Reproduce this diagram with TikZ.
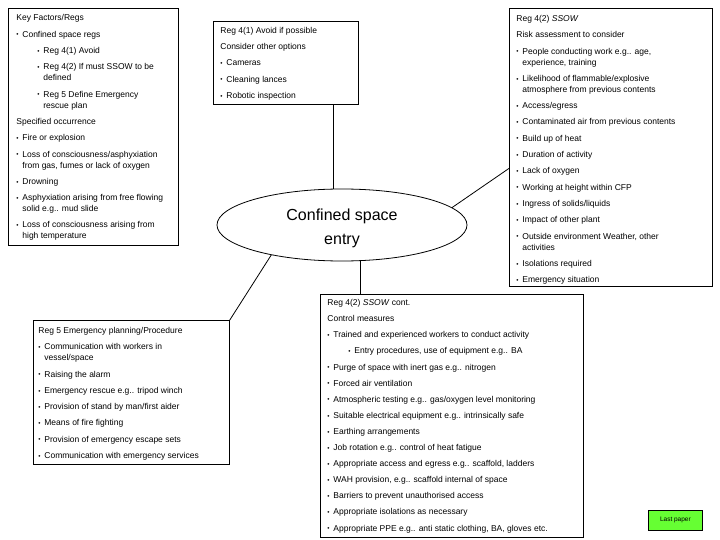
\documentclass[tikz,border=0pt]{standalone}
\usepackage{fontspec}
\setmainfont{Liberation Sans}
\usepackage{tikz}
\usetikzlibrary{
    positioning,
    calc,
    shapes.geometric
}
\definecolor{paperGreen}{RGB}{102,255,51}
% bullet, continuation and sub-item indents
\newcommand{\bl}{\makebox[6pt][l]{\raisebox{0.3pt}{\scalebox{0.75}{\textbullet}}}}
\newcommand{\ctd}{\hspace*{6pt}}
\newcommand{\subind}{\hspace*{21pt}}

\begin{document}
\begin{tikzpicture}[x=1pt,y=-1pt,
   box/.style={draw,anchor=north west,inner sep=0pt},
   txt/.style={anchor=north west,inner sep=0pt,align=left,font=\fontsize{8.5}{11}\selectfont},
   every path/.style={line width=0.8pt}]
  \useasboundingbox (0,0) rectangle (720,540);
  % centre
  \node[ellipse,draw,minimum width=250pt,minimum height=72pt,inner sep=0pt] (conf) at (342,225) {};
  \node[align=center,inner sep=0pt,font=\fontsize{16}{24.5}\selectfont] (conftxt)
        at ($(conf.center)+(0,3.5)$) {Confined space\\entry};
  % key factors
  \node[box,minimum width=170pt,minimum height=237pt] (key) at (8,8) {};
  \node[txt] (keytxt) at ($(key.north west)+(8,4.8)$) {\strut Key Factors/Regs\\[5.3pt]
    \bl Confined space regs\\[5.3pt]
    \subind\bl Reg 4(1) Avoid\\[5.3pt]
    \subind\bl Reg 4(2) If must SSOW to be\\
    \subind\ctd defined\\[5.3pt]
    \subind\bl Reg 5 Define Emergency\\
    \subind\ctd rescue plan\\[5.3pt]
    Specified occurrence\\[5.3pt]
    \bl Fire or explosion\\[5.3pt]
    \bl Loss of consciousness/asphyxiation\\
    \ctd from gas, fumes or lack of oxygen\\[5.3pt]
    \bl Drowning\\[5.3pt]
    \bl Asphyxiation arising from free flowing\\
    \ctd solid e.g.. mud slide\\[5.3pt]
    \bl Loss of consciousness arising from\\
    \ctd high temperature};
  % reg 4(1)
  \node[box,minimum width=145pt,minimum height=83pt] (reg41) at (213,21) {};
  \node[txt] (reg41txt) at ($(reg41.north west)+(7,4.3)$) {\strut Reg 4(1) Avoid if possible\\[5.3pt]
    Consider other options\\[5.3pt]
    \bl Cameras\\[5.3pt]
    \bl Cleaning lances\\[5.3pt]
    \bl Robotic inspection};
  % reg 4(2) ssow
  \node[box,minimum width=203pt,minimum height=278pt] (ssow) at (509,8) {};
  \node[txt] (ssowtxt) at ($(ssow.north west)+(7,5.3)$) {\strut Reg 4(2) \textit{SSOW}\\[5.3pt]
    Risk assessment to consider\\[5.3pt]
    \bl People conducting work e.g.. age,\\
    \ctd experience, training\\[5.3pt]
    \bl Likelihood of flammable/explosive\\
    \ctd atmosphere from previous contents\\[5.3pt]
    \bl Access/egress\\[5.3pt]
    \bl Contaminated air from previous contents\\[5.3pt]
    \bl Build up of heat\\[5.3pt]
    \bl Duration of activity\\[5.3pt]
    \bl Lack of oxygen\\[5.3pt]
    \bl Working at height within CFP\\[5.3pt]
    \bl Ingress of solids/liquids\\[5.3pt]
    \bl Impact of other plant\\[5.3pt]
    \bl Outside environment Weather, other\\
    \ctd activities\\[5.3pt]
    \bl Isolations required\\[5.3pt]
    \bl Emergency situation};
  % reg 5
  \node[box,minimum width=196pt,minimum height=144pt] (reg5) at (33,320) {};
  \node[txt] (reg5txt) at ($(reg5.north west)+(5,5.3)$) {\strut Reg 5 Emergency planning/Procedure\\[5.3pt]
    \bl Communication with workers in\\
    \ctd vessel/space\\[5.3pt]
    \bl Raising the alarm\\[5.3pt]
    \bl Emergency rescue e.g.. tripod winch\\[5.3pt]
    \bl Provision of stand by man/first aider\\[5.3pt]
    \bl Means of fire fighting\\[5.3pt]
    \bl Provision of emergency escape sets\\[5.3pt]
    \bl Communication with emergency services};
  % reg 4(2) cont.
  \node[box,minimum width=263pt,minimum height=243pt] (cont) at (320,294) {};
  \node[txt] (conttxt) at ($(cont.north west)+(7,3.5)$) {\strut Reg 4(2) \textit{SSOW} cont.\\[5.1pt]
    Control measures\\[5.1pt]
    \bl Trained and experienced workers to conduct activity\\[5.1pt]
    \subind\bl Entry procedures, use of equipment e.g.. BA\\[5.1pt]
    \bl Purge of space with inert gas e.g.. nitrogen\\[5.1pt]
    \bl Forced air ventilation\\[5.1pt]
    \bl Atmospheric testing e.g.. gas/oxygen level monitoring\\[5.1pt]
    \bl Suitable electrical equipment e.g.. intrinsically safe\\[5.1pt]
    \bl Earthing arrangements\\[5.1pt]
    \bl Job rotation e.g.. control of heat fatigue\\[5.1pt]
    \bl Appropriate access and egress e.g.. scaffold, ladders\\[5.1pt]
    \bl WAH provision, e.g.. scaffold internal of space\\[5.1pt]
    \bl Barriers to prevent unauthorised access\\[5.1pt]
    \bl Appropriate isolations as necessary\\[5.1pt]
    \bl Appropriate PPE e.g.. anti static clothing, BA, gloves etc.};
  % last paper tag
  \node[box,fill=paperGreen,minimum width=54pt,minimum height=20pt,
        font=\fontsize{6.5}{8}\selectfont] (last) at (648,510) {Last paper};
  % connectors
  \draw (conf.104) -- (conf.104 |- reg41.south);
  \draw (conf.9) -- ($(ssow.west)+(0,21)$);
  \draw (conf.-157) -- (reg5.north east);
  \draw (conf.-63) -- (conf.-63 |- cont.north);
\end{tikzpicture}
\end{document}
